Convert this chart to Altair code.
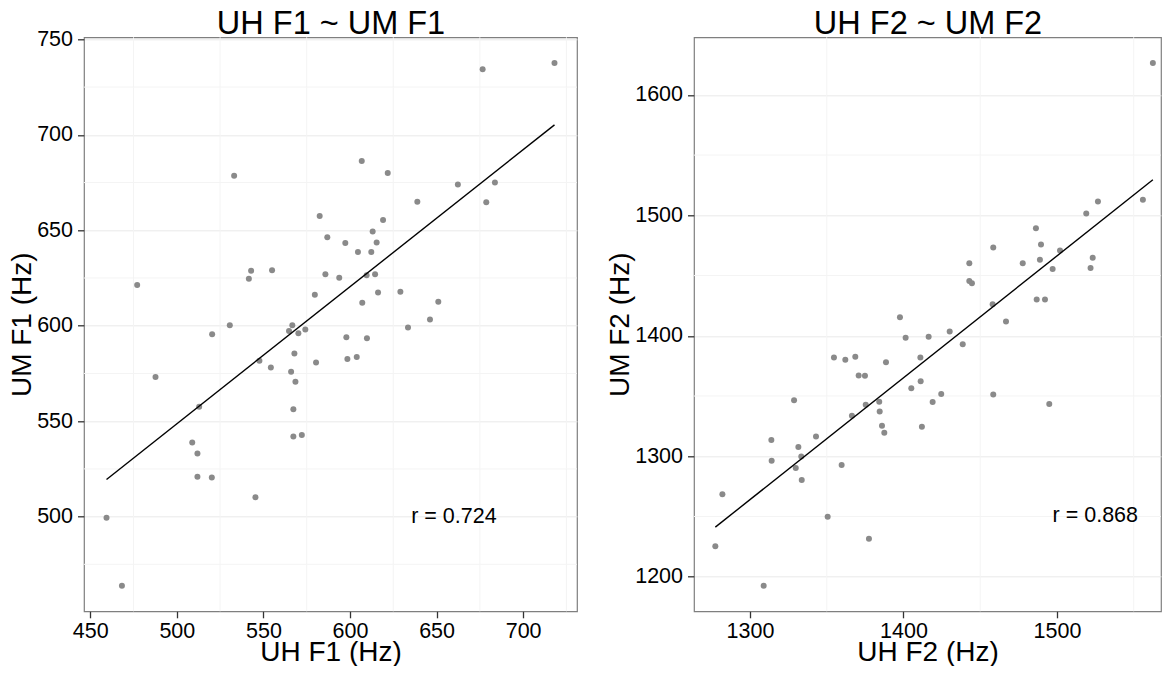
import altair as alt
import pandas as pd

# ---- Panel 1: F1 ----
uh_f1 = [533.1, 582.5, 586.9, 542.9, 541.6, 555.0, 585.8, 477.1, 579.7, 530.6,
         520.4, 566.7, 564.8, 574.2, 570.2, 676.6, 718.1, 606.8, 621.8, 662.3,
         683.7, 678.7, 638.9, 619.1, 613.1, 597.3, 615.4, 604.6, 612.3, 593.8,
         609.6, 614.5, 616.2, 629.1, 607.1, 651.0, 646.2, 633.5, 487.7, 547.7,
         554.3, 567.9, 580.4, 566.0, 568.5, 567.3, 567.3, 572.2, 512.9, 508.9,
         511.9, 511.9, 520.2, 545.4, 459.4, 468.3, 597.9, 609.8, 598.5, 603.9]
um_f1 = [678.6, 657.5, 646.3, 628.8, 624.6, 629.1, 627.0, 621.4, 616.2, 600.3,
         595.5, 600.3, 597.3, 598.0, 596.1, 734.4, 737.7, 686.3, 680.0, 674.0,
         675.0, 664.7, 665.0, 655.4, 649.4, 643.4, 643.6, 638.6, 638.6, 625.2,
         626.4, 627.0, 617.4, 617.8, 612.1, 612.6, 603.2, 599.1, 573.1, 581.7,
         578.1, 585.5, 580.7, 575.9, 570.7, 556.3, 542.0, 542.7, 557.5, 538.8,
         533.1, 520.9, 520.5, 510.2, 499.4, 463.8, 593.9, 593.4, 582.6, 583.6]

# ---- Panel 2: F2 ----
uh_f2 = [1397.7, 1562.5, 1556.0, 1526.7, 1519.1, 1486.3, 1489.6, 1458.5, 1502.0, 1523.3,
         1442.9, 1477.7, 1488.9, 1497.2, 1521.9, 1442.9, 1444.6, 1458.1, 1486.8, 1492.2,
         1466.8, 1430.1, 1401.4, 1416.4, 1438.6, 1411.0, 1411.2, 1405.1, 1424.6, 1419.0,
         1458.5, 1495.0, 1412.0, 1354.7, 1362.1, 1368.6, 1388.6, 1370.8, 1374.9, 1328.7,
         1375.4, 1384.2, 1384.5, 1366.4, 1386.0, 1387.5, 1313.9, 1343.0, 1331.5, 1314.1,
         1333.4, 1329.8, 1333.7, 1359.7, 1282.0, 1350.6, 1377.5, 1277.4, 1308.9]
um_f2 = [1415.5, 1626.5, 1513.0, 1511.4, 1501.6, 1489.3, 1475.7, 1473.3, 1470.8, 1464.8,
         1460.2, 1460.2, 1463.2, 1455.5, 1456.3, 1445.5, 1443.6, 1426.1, 1430.2, 1430.2,
         1411.8, 1403.6, 1398.4, 1399.2, 1393.0, 1382.0, 1362.2, 1356.5, 1351.6, 1345.0,
         1351.3, 1343.4, 1324.6, 1382.0, 1380.2, 1382.6, 1378.0, 1367.1, 1366.8, 1346.4,
         1342.8, 1345.3, 1337.1, 1333.6, 1325.4, 1319.5, 1313.4, 1316.5, 1307.7, 1296.3,
         1299.9, 1290.3, 1280.3, 1292.8, 1268.5, 1249.7, 1231.5, 1225.2, 1192.6]

x1_ticks = [450, 500, 550, 600, 650, 700]
y1_ticks = [500, 550, 600, 650, 700, 750]
x1_minor = [475, 525, 575, 625, 675, 725]
y1_minor = [475, 525, 575, 625, 675, 725]
x2_ticks = [1300, 1400, 1500]
y2_ticks = [1200, 1300, 1400, 1500, 1600]
x2_minor = [1350, 1450, 1550]
y2_minor = [1250, 1350, 1450, 1550]

r_labels = ["r = 0.724", "r = 0.868"]
r_pos_x = [660, 1525]
r_pos_y = [500, 1250]

FONT = "Liberation Sans"


def panel(uh, um, title, xt, yt, xdom, ydom, xticks, yticks, xminor, yminor,
          rlab, rx, ry, w, h):
    df = pd.DataFrame({"uh": uh, "um": um})
    xs = alt.Scale(domain=xdom, nice=False, zero=False)
    ys = alt.Scale(domain=ydom, nice=False, zero=False)
    xax = alt.Axis(values=xticks, title=xt, format="d")
    yax = alt.Axis(values=yticks, title=yt, format="d")
    top_ax = alt.Axis(orient="top", title=title, labels=False, ticks=False,
                      domain=False, grid=False, titleFontSize=32.5,
                      titlePadding=-3, titleFont=FONT, titleColor="black",
                      titleFontWeight="normal")

    minor_x = alt.Chart(pd.DataFrame({"uh": xminor})).mark_rule(
        color="#f4f4f4", strokeWidth=1
    ).encode(x=alt.X("uh:Q", scale=xs, axis=top_ax))
    minor_y = alt.Chart(pd.DataFrame({"um": yminor})).mark_rule(
        color="#f4f4f4", strokeWidth=1
    ).encode(y=alt.Y("um:Q", scale=ys, axis=yax))

    base = alt.Chart(df)
    pts = base.mark_circle(size=36, color="#8a8a8a", opacity=1).encode(
        x=alt.X("uh:Q", scale=xs, axis=xax),
        y=alt.Y("um:Q", scale=ys, axis=yax),
    )
    line = base.transform_regression("uh", "um").mark_line(
        color="black", strokeWidth=1.4
    ).encode(
        x=alt.X("uh:Q", scale=xs, axis=None),
        y=alt.Y("um:Q", scale=ys, axis=yax),
    )
    txt = alt.Chart(pd.DataFrame({"uh": [rx], "um": [ry], "t": [rlab]})).mark_text(
        font=FONT, fontSize=21.5, color="black", align="center", baseline="middle"
    ).encode(
        x=alt.X("uh:Q", scale=xs, axis=None),
        y=alt.Y("um:Q", scale=ys, axis=yax),
        text="t:N",
    )
    return alt.layer(minor_x, minor_y, pts, line, txt).resolve_axis(
        x="independent"
    ).properties(width=w, height=h)


p1 = panel(uh_f1, um_f1, "UH F1 ~ UM F1", "UH F1 (Hz)", "UM F1 (Hz)",
           [446.4, 731.1], [450.4, 751.1], x1_ticks, y1_ticks, x1_minor, y1_minor,
           r_labels[0], r_pos_x[0], r_pos_y[0], 493, 574)
p2 = panel(uh_f2, um_f2, "UH F2 ~ UM F2", "UH F2 (Hz)", "UM F2 (Hz)",
           [1263.5, 1567.8], [1171.3, 1647.8], x2_ticks, y2_ticks, x2_minor, y2_minor,
           r_labels[1], r_pos_x[1], r_pos_y[1], 467, 574)

chart = alt.hconcat(p1, p2, spacing=27).properties(
    padding={"left": 0, "top": -1.7, "right": 0, "bottom": -1}
).configure_view(
    stroke="#7f7f7f", strokeWidth=1.2
).configure_axis(
    labelFont=FONT, labelFontSize=21.5, labelColor="black",
    titleFont=FONT, titleFontSize=28, titleFontWeight="normal", titleColor="black",
    tickColor="#333333", tickSize=6.5, tickWidth=1.3,
    domain=False, grid=True, gridColor="#e9e9e9", gridWidth=1,
).configure_axisX(
    labelPadding=3, titlePadding=-4
).configure_axisY(
    labelPadding=5, titlePadding=0
)

chart.save("out.html", embed_options={"renderer": "svg", "actions": False})
